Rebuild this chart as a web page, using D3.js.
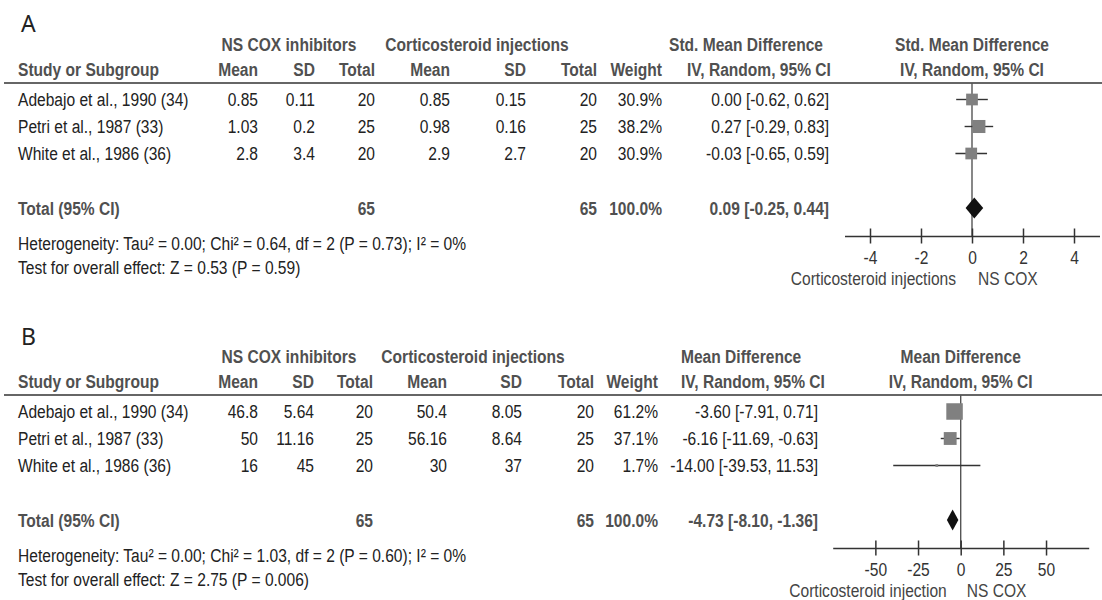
<!DOCTYPE html>
<html>
<head>
<meta charset="utf-8">
<script src="https://cdn.jsdelivr.net/npm/d3@7"></script>
<style>
  body { margin: 0; background: #fff; }
  svg text { font-family: "Liberation Sans", Arial, sans-serif; }
</style>
</head>
<body>
<svg id="chart" width="1102" height="600"></svg>
<script>
// ---- Study data -------------------------------------------------------
const studies = ["Adebajo et al., 1990 (34)", "Petri et al., 1987 (33)", "White et al., 1986 (36)"];

// Panel A: standardized mean difference
const coxMeanA = [0.85, 1.03, 2.8];
const coxSdA = [0.11, 0.2, 3.4];
const coxNA = [20, 25, 20];
const cortMeanA = [0.85, 0.98, 2.9];
const cortSdA = [0.15, 0.16, 2.7];
const cortNA = [20, 25, 20];
const weightA = [30.9, 38.2, 30.9];
const effectA = [0.00, 0.27, -0.03];
const lowerA = [-0.62, -0.29, -0.65];
const upperA = [0.62, 0.83, 0.59];
const pooledA = [0.09, -0.25, 0.44];          // estimate, lower, upper
const ticksA = [-4, -2, 0, 2, 4];
const domainA = [-5, 5];
const heterogeneityA = "Heterogeneity: Tau² = 0.00; Chi² = 0.64, df = 2 (P = 0.73); I² = 0%";
const overallA = "Test for overall effect: Z = 0.53 (P = 0.59)";

// Panel B: mean difference
const coxMeanB = [46.8, 50, 16];
const coxSdB = [5.64, 11.16, 45];
const coxNB = [20, 25, 20];
const cortMeanB = [50.4, 56.16, 30];
const cortSdB = [8.05, 8.64, 37];
const cortNB = [20, 25, 20];
const weightB = [61.2, 37.1, 1.7];
const effectB = [-3.60, -6.16, -14.00];
const lowerB = [-7.91, -11.69, -39.53];
const upperB = [0.71, -0.63, 11.53];
const pooledB = [-4.73, -8.10, -1.36];
const ticksB = [-50, -25, 0, 25, 50];
const domainB = [-75, 75];
const heterogeneityB = "Heterogeneity: Tau² = 0.00; Chi² = 1.03, df = 2 (P = 0.60); I² = 0%";
const overallB = "Test for overall effect: Z = 2.75 (P = 0.006)";

// ---- Drawing ----------------------------------------------------------
const svg = d3.select("#chart");
const FS = 19;           // font size of table and axis text
const NARROW = 0.82;     // horizontal squeeze for a condensed face
const boldColor = "#505050";
const textColor = "#222";

// box side grows with the square root of the study weight
const boxSize = d3.scaleSqrt().domain([0, 100]).range([0, 21.1]);

function drawPanel(p) {
  const g = svg.append("g");
  const c = p.cols;
  const L = p.lineY;
  const rowY = [L + 16.5, L + 43.5, L + 70.5];
  const totalY = L + 125;
  const axisY = L + 153;

  const txt = (x, y, s, opts = {}) => g.append("text")
    .attr("transform", `translate(${x},${y}) scale(${NARROW},1)`)
    .attr("dy", "0.35em")
    .attr("text-anchor", opts.anchor || "end")
    .attr("font-size", opts.size || FS)
    .attr("font-weight", opts.bold ? "bold" : "normal")
    .attr("fill", opts.color || (opts.bold ? boldColor : textColor))
    .text(s);

  // panel letter
  g.append("text").attr("x", 21).attr("y", p.letterY)
    .attr("font-size", 23).attr("fill", "#222")
    .style("font-family", "'Noto Sans', 'Open Sans', sans-serif")
    .text(p.letter);

  // column headers
  const h1 = L - 39, h2 = L - 14;
  txt(c.coxC, h1, "NS COX inhibitors", {anchor: "middle", bold: true});
  txt(c.cortC, h1, "Corticosteroid injections", {anchor: "middle", bold: true});
  txt(c.measureL1, h1, p.measure, {anchor: "start", bold: true});
  txt(c.measureL2, h2, "IV, Random, 95% CI", {anchor: "start", bold: true});

  const x = d3.scaleLinear().domain(p.domain).range(p.range);
  const mid = (p.range[0] + p.range[1]) / 2;
  txt(mid, h1, p.measure, {anchor: "middle", bold: true});
  txt(mid, h2, "IV, Random, 95% CI", {anchor: "middle", bold: true});

  txt(c.study, h2, "Study or Subgroup", {anchor: "start", bold: true});
  txt(c.mean1, h2, "Mean", {bold: true});
  txt(c.sd1, h2, "SD", {bold: true});
  txt(c.n1, h2, "Total", {bold: true});
  txt(c.mean2, h2, "Mean", {bold: true});
  txt(c.sd2, h2, "SD", {bold: true});
  txt(c.n2, h2, "Total", {bold: true});
  txt(c.weight, h2, "Weight", {bold: true});

  // rule under the headers
  g.append("line").attr("x1", 4).attr("x2", 1102).attr("y1", L).attr("y2", L)
    .attr("stroke", "#333").attr("stroke-width", 1.5);

  // study rows
  studies.forEach((s, i) => {
    const y = rowY[i];
    txt(c.study, y, s, {anchor: "start"});
    txt(c.mean1, y, String(p.coxMean[i]));
    txt(c.sd1, y, String(p.coxSd[i]));
    txt(c.n1, y, String(p.coxN[i]));
    txt(c.mean2, y, String(p.cortMean[i]));
    txt(c.sd2, y, String(p.cortSd[i]));
    txt(c.n2, y, String(p.cortN[i]));
    txt(c.weight, y, p.weight[i].toFixed(1) + "%");
    txt(c.ci, y, `${p.effect[i].toFixed(2)} [${p.lower[i].toFixed(2)}, ${p.upper[i].toFixed(2)}]`);
  });

  // totals
  txt(c.study, totalY, "Total (95% CI)", {anchor: "start", bold: true});
  txt(c.n1, totalY, String(d3.sum(p.coxN)), {bold: true});
  txt(c.n2, totalY, String(d3.sum(p.cortN)), {bold: true});
  txt(c.weight, totalY, d3.sum(p.weight).toFixed(1) + "%", {bold: true});
  txt(c.ci, totalY, `${p.pooled[0].toFixed(2)} [${p.pooled[1].toFixed(2)}, ${p.pooled[2].toFixed(2)}]`, {bold: true});

  txt(c.study, L + 160, p.heterogeneity, {anchor: "start"});
  txt(c.study, L + 184, p.overall, {anchor: "start"});

  // line of no effect
  g.append("line").attr("x1", x(0)).attr("x2", x(0)).attr("y1", L).attr("y2", axisY)
    .attr("stroke", "#555").attr("stroke-width", 1.4);

  // confidence intervals and weighted boxes
  studies.forEach((s, i) => {
    const y = rowY[i];
    g.append("line").attr("x1", x(p.lower[i])).attr("x2", x(p.upper[i]))
      .attr("y1", y).attr("y2", y).attr("stroke", "#333").attr("stroke-width", 1.4);
    const b = boxSize(p.weight[i]);
    g.append("rect").attr("x", x(p.effect[i]) - b / 2).attr("y", y - b / 2)
      .attr("width", b).attr("height", b).attr("fill", "#808080");
  });

  // pooled estimate diamond
  const dh = 10.5;
  g.append("path")
    .attr("d", `M${x(p.pooled[1])},${totalY} L${x(p.pooled[0])},${totalY - dh} L${x(p.pooled[2])},${totalY} L${x(p.pooled[0])},${totalY + dh} Z`)
    .attr("fill", "#111");

  // axis with ticks crossing the line
  const ax = g.append("g").attr("transform", `translate(0,${axisY})`)
    .call(d3.axisBottom(x).tickValues(p.ticks).tickSizeOuter(0).tickSizeInner(7.5));
  ax.select(".domain").attr("stroke", "#333").attr("stroke-width", 1.5);
  ax.selectAll(".tick line").attr("y1", -7.5).attr("y2", 7.5).attr("stroke", "#333").attr("stroke-width", 1.5);
  ax.selectAll(".tick text")
    .attr("y", null)
    .attr("transform", `translate(0,21) scale(${NARROW},1)`)
    .attr("dy", "0.35em")
    .attr("font-size", FS).attr("fill", "#333")
    .style("font-family", "'Liberation Sans', Arial, sans-serif")
    .text(d => d < 0 ? "-" + Math.abs(d) : String(d));

  txt(x(0) - p.leftGap, L + 195, p.leftLabel, {anchor: "end", color: "#444"});
  txt(x(0) + 6, L + 195, "NS COX", {anchor: "start", color: "#444"});
}

drawPanel({
  letter: "A", letterY: 32, lineY: 83, measure: "Std. Mean Difference",
  cols: {study: 18, mean1: 258, sd1: 315, n1: 375, mean2: 450, sd2: 526, n2: 597,
         weight: 662, ci: 829, coxC: 289, cortC: 477, measureL1: 669, measureL2: 687},
  domain: domainA, range: [844.5, 1099.5], ticks: ticksA,
  coxMean: coxMeanA, coxSd: coxSdA, coxN: coxNA,
  cortMean: cortMeanA, cortSd: cortSdA, cortN: cortNA,
  weight: weightA, effect: effectA, lower: lowerA, upper: upperA, pooled: pooledA,
  heterogeneity: heterogeneityA, overall: overallA,
  leftLabel: "Corticosteroid injections", leftGap: 16
});

drawPanel({
  letter: "B", letterY: 345, lineY: 395, measure: "Mean Difference",
  cols: {study: 18, mean1: 258, sd1: 314, n1: 373, mean2: 447, sd2: 522, n2: 594,
         weight: 658, ci: 818, coxC: 289, cortC: 473, measureL1: 681, measureL2: 681},
  domain: domainB, range: [832.7, 1088.7], ticks: ticksB,
  coxMean: coxMeanB, coxSd: coxSdB, coxN: coxNB,
  cortMean: cortMeanB, cortSd: cortSdB, cortN: cortNB,
  weight: weightB, effect: effectB, lower: lowerB, upper: upperB, pooled: pooledB,
  heterogeneity: heterogeneityB, overall: overallB,
  leftLabel: "Corticosteroid injection", leftGap: 14
});
</script>
</body>
</html>
